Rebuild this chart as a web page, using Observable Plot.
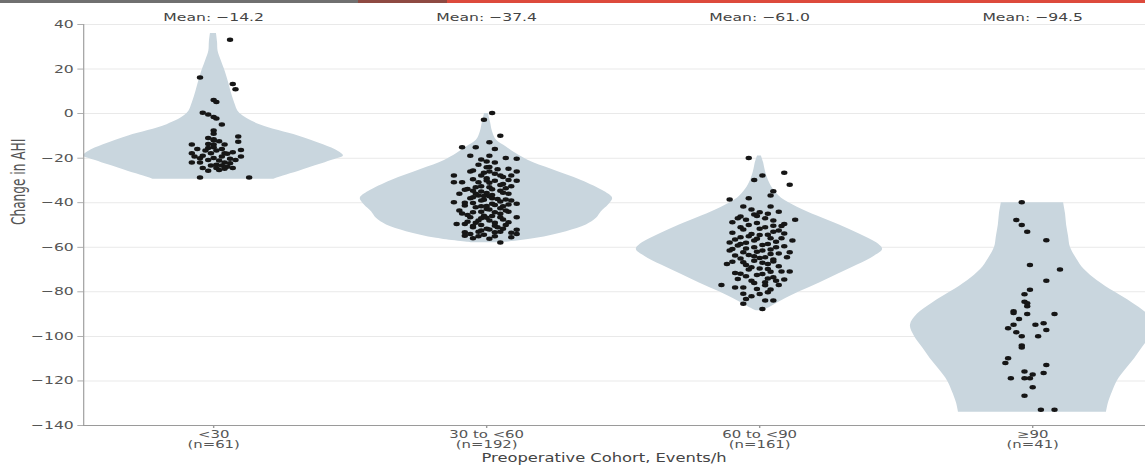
<!DOCTYPE html>
<html>
<head>
<meta charset="utf-8">
<script src="https://cdn.jsdelivr.net/npm/d3@7"></script>
<script src="https://cdn.jsdelivr.net/npm/@observablehq/plot@0.6"></script>
<style>
  html, body { margin: 0; padding: 0; background: #fff; }
  #wrap { position: relative; width: 1145px; height: 468px; overflow: hidden; }
  #topbar { position: absolute; top: 0; left: 0; width: 1145px; height: 3px;
    background: linear-gradient(to right, #707070 0 358px, #8e4a42 358px 447px, #dd4a3c 447px 1145px); }
</style>
</head>
<body>
<div id="wrap"><div id="topbar"></div></div>
<script>
// ---- data ----
const categories = ["<30", "30 to <60", "60 to <90", "≥90"];
const nLabels = ["(n=61)", "(n=192)", "(n=161)", "(n=41)"];
const means = [-14.2, -37.4, -61.0, -94.5];
const yTicks = [-140, -120, -100, -80, -60, -40, -20, 0, 20, 40];
const yTitle = "Change in AHI";
const xTitle = "Preoperative Cohort, Events/h";

// violin outlines: [value, half-width in category units]
const violin1 = [[36,0.011],[32,0.015],[28,0.017],[24,0.028],[20,0.040],[15,0.053],[10,0.064],[5,0.077],[0,0.097],[-5,0.170],[-10,0.311],[-14,0.403],[-17,0.458],[-19,0.476],[-21,0.432],[-23,0.385],[-26,0.311],[-28,0.256],[-29.5,0.220]];
const violin2 = [[0,0.007],[-4,0.015],[-8,0.022],[-12,0.037],[-15,0.073],[-18,0.110],[-21,0.154],[-25,0.238],[-30,0.348],[-35,0.432],[-38,0.462],[-41,0.447],[-44,0.421],[-47,0.403],[-50,0.366],[-53,0.293],[-56,0.183],[-58,0.055]];
const violin3 = [[-19,0.007],[-22,0.015],[-26,0.022],[-30,0.033],[-34,0.051],[-38,0.081],[-42,0.139],[-46,0.212],[-50,0.293],[-54,0.366],[-58,0.429],[-61,0.451],[-64,0.421],[-68,0.359],[-72,0.289],[-76,0.220],[-80,0.147],[-84,0.081],[-87,0.037],[-88.5,0.011]];
const violin4 = [[-40,0.114],[-45,0.121],[-50,0.125],[-55,0.132],[-60,0.139],[-65,0.161],[-70,0.190],[-75,0.238],[-80,0.300],[-85,0.366],[-90,0.421],[-95,0.447],[-100,0.432],[-105,0.403],[-110,0.374],[-115,0.341],[-120,0.311],[-125,0.293],[-130,0.278],[-134,0.271]];

// individual patients: [change in AHI, jitter in category units]
const points1 = [[33.1,0.06],[16.2,-0.05],[13.3,0.07],[10.9,0.08],[6.1,0.00],[5.2,0.01],[0.4,-0.04],[-0.4,-0.02],[-1.5,0.00],[-2.2,0.01],[-4.9,0.03],[-7.6,0.00],[-9,0.00],[-10.3,0.09],[-10.9,-0.02],[-11.5,0.00],[-12.6,0.09],[-13.9,-0.08],[-13.6,-0.02],[-13.9,0.00],[-13.9,0.04],[-15.4,-0.02],[-15.1,0.00],[-15.9,0.03],[-16.3,0.10],[-15.9,-0.06],[-16.6,-0.03],[-16.6,0.01],[-17.8,-0.08],[-17.8,-0.01],[-17.8,0.04],[-17.4,0.07],[-18.9,-0.04],[-19.3,-0.07],[-19.3,0.03],[-19.3,0.10],[-19.9,0.00],[-20.3,0.06],[-20.8,0.08],[-20.8,-0.02],[-21.9,-0.05],[-21.9,-0.08],[-21.9,0.04],[-22.3,0.06],[-22.9,0.01],[-23.3,-0.01],[-23.3,0.03],[-23.8,0.05],[-24.4,-0.04],[-24.4,0.01],[-24.8,0.04],[-25.6,-0.02],[-25.3,0.02],[-24.4,0.07],[-28.7,-0.05],[-28.7,0.13],[-12.0,0.00],[-12.4,0.02],[-20.0,-0.05],[-21.0,0.02],[-18.0,0.05]];
const points2 = [[0.3,0.02],[-2.8,-0.01],[-9.9,0.05],[-12.9,0.01],[-15.1,-0.09],[-15.1,-0.04],[-15.9,0.03],[-18.9,-0.06],[-18.9,0.01],[-19.9,0.07],[-20.3,0.11],[-20.6,-0.02],[-21.5,0.00],[-21.9,0.03],[-24.1,0.00],[-24.8,0.08],[-26,-0.06],[-26,0.01],[-26,0.11],[-27.8,-0.12],[-27.8,-0.02],[-27.8,0.05],[-27.8,0.09],[-29,0.00],[-30.8,-0.09],[-30.8,-0.03],[-30.1,0.03],[-30.1,0.11],[-31.6,0.06],[-30.8,-0.12],[-32.6,-0.02],[-33.1,0.01],[-32.6,0.09],[-33.8,-0.07],[-34.6,-0.05],[-34.6,0.05],[-35.6,0.00],[-36,-0.10],[-36,0.08],[-36.8,-0.03],[-37.1,0.01],[-38,-0.06],[-38.3,0.04],[-38.7,-0.01],[-39,0.09],[-39.8,-0.12],[-40.1,-0.05],[-40.5,0.02],[-40.5,0.11],[-41.3,-0.08],[-41.6,-0.02],[-41.6,0.06],[-42.8,0.00],[-43.5,-0.10],[-44.3,-0.05],[-44.3,0.03],[-44,0.08],[-45.8,-0.01],[-46.5,-0.06],[-46.5,0.05],[-46.5,0.11],[-48,-0.03],[-48,0.01],[-48.8,0.08],[-49.5,-0.11],[-49.5,-0.08],[-50,-0.02],[-50.3,0.03],[-51,-0.05],[-51.7,0.00],[-51.7,0.06],[-52.1,0.11],[-53,-0.03],[-53.3,0.03],[-53.3,-0.08],[-53.5,0.09],[-54.4,-0.01],[-54.8,-0.08],[-55.5,0.09],[-56.2,0.01],[-57.8,0.05],[-54,0.11],
  [-23,-0.03],[-25,0.04],[-26.5,-0.01],[-28.5,0.06],[-29.5,-0.05],[-31,0.01],[-32,0.05],[-33,-0.04],[-34,0.02],[-35,-0.02],[-35.5,0.06],[-36.5,0.02],[-37.5,-0.05],[-38,0.02],[-39,-0.02],[-39.5,0.05],[-40,-0.08],[-41,0.03],[-42,-0.04],[-42.5,0.05],[-43,0.01],[-44,-0.02],[-45,0.05],[-45.5,-0.07],[-46,0.02],[-47,-0.02],[-47.5,0.06],[-49,-0.04],[-49,0.03],[-50,0.07],[-50.5,-0.05],[-52,0.01],[-52.5,-0.02],[-53,0.05],[-55,-0.03],[-55,0.03],[-56,-0.05],[-24,0.01],[-27,0.03],[-30,0.00],[-33.5,0.07],[-37,-0.01],[-41.5,0.00],[-43.5,0.07],[-46.8,0.00],[-51,0.04],[-54,-0.06],[-36,-0.04],[-38.5,0.07],[-44.8,-0.09],[-48.5,-0.07],[-40.8,0.08],[-34.2,-0.08],[-29.8,0.08],[-25.5,-0.05]];
const points3 = [[-19.9,-0.04],[-27.8,0.01],[-26.6,0.09],[-29.8,-0.02],[-31.9,0.11],[-34.9,0.05],[-36.8,0.04],[-38.6,-0.11],[-38,-0.04],[-41.7,-0.06],[-41.7,0.04],[-44,0.07],[-44.3,0.00],[-45.3,-0.02],[-46.2,-0.07],[-47.6,0.13],[-47.6,-0.05],[-47,0.02],[-48.8,-0.10],[-49.1,-0.01],[-50.3,0.05],[-49.5,0.09],[-51,-0.07],[-51.7,0.00],[-52.5,0.07],[-53.5,-0.10],[-54,-0.03],[-54.4,0.03],[-55.5,-0.07],[-56.2,-0.01],[-55.9,0.08],[-57,0.12],[-57.8,-0.11],[-58,-0.05],[-58.5,0.03],[-59.2,-0.08],[-60,-0.02],[-60,0.06],[-61.5,-0.11],[-61.5,0.01],[-62.2,-0.06],[-62.2,0.11],[-63,0.04],[-63.7,-0.09],[-64,-0.02],[-64.5,0.10],[-67.5,-0.12],[-66.7,-0.06],[-67,0.01],[-66.4,0.05],[-69,-0.03],[-69.7,0.03],[-70.9,0.08],[-70.9,0.11],[-71.9,-0.07],[-72.4,-0.01],[-73.5,0.05],[-74.2,-0.08],[-75,-0.03],[-75.7,0.02],[-76.9,-0.14],[-76.9,0.07],[-78,-0.06],[-78.7,-0.01],[-80.2,0.03],[-80.9,-0.06],[-83.2,-0.05],[-83.9,0.02],[-83.9,0.05],[-87.7,0.01],[-85.4,-0.06],
  [-43,-0.03],[-45,0.03],[-46,-0.01],[-48,0.05],[-50,-0.04],[-51,0.02],[-52,-0.06],[-53,0.05],[-54.5,0.00],[-55,-0.04],[-56,0.04],[-57,-0.02],[-57.5,0.06],[-58.5,-0.07],[-59,0.01],[-60.5,-0.05],[-61,0.04],[-62,-0.01],[-62.8,0.07],[-63.5,-0.04],[-64.5,0.02],[-65,-0.07],[-65.5,0.05],[-66,-0.02],[-67.5,0.03],[-68,-0.05],[-68.5,0.07],[-69.5,0.00],[-70,-0.04],[-71,0.04],[-72,0.01],[-73,-0.05],[-74,0.03],[-75,0.06],[-76,-0.02],[-77,0.02],[-78,-0.09],[-79,0.04],[-81,0.00],[-82,-0.03],[-50.5,0.08],[-56.5,-0.09],[-59.5,0.09],[-66.5,-0.10],[-71.5,-0.09],[-74.5,0.09],[-47,-0.08],[-53.8,0.09],[-60.8,-0.10],[-64.8,0.00]];
const points4 = [[-39.8,-0.04],[-47.7,-0.06],[-50,-0.04],[-53,-0.02],[-56.8,0.05],[-67.9,-0.01],[-70,0.10],[-75,0.05],[-79.1,-0.01],[-81.1,-0.03],[-84.4,-0.03],[-85.1,-0.02],[-88.7,-0.07],[-89.5,-0.07],[-89.9,-0.02],[-89.9,0.08],[-92.2,-0.05],[-94.8,-0.07],[-96.3,-0.09],[-94.8,0.01],[-94.1,0.04],[-97.1,0.05],[-98.1,-0.06],[-99.9,-0.04],[-99.9,0.02],[-104.1,-0.04],[-105,-0.04],[-109.8,-0.09],[-111.9,-0.10],[-112.8,0.05],[-115.8,-0.03],[-116.4,0.04],[-117.1,0.00],[-118.8,-0.08],[-118.8,-0.03],[-118.8,-0.01],[-122.8,0.00],[-126.6,-0.03],[-132.9,0.03],[-132.9,0.08],[-86.5,-0.02]];

// ---- build tables ----
const violins = [violin1, violin2, violin3, violin4];
const pointSets = [points1, points2, points3, points4];
const violinRows = violins.flatMap((v, c) => v.map(([value, w]) => ({c, value, w})));
const pointRows = pointSets.flatMap((p, c) => p.map(([value, j]) => ({c, value, j})));

const stretch = 1145 / 806;          // reference is horizontally stretched
const W = 806, H = 468;
const xDomain = [-0.476, 3.414];
const fmt = d => d < 0 ? "\u2212" + Math.abs(d) : String(d);
const fmt1 = d => (d < 0 ? "\u2212" : "") + Math.abs(d).toFixed(1);

const chart = Plot.plot({
  width: W, height: H,
  marginLeft: 83 / stretch, marginRight: 0, marginTop: 24, marginBottom: 43,
  style: {fontFamily: "'DejaVu Sans', Verdana, sans-serif", fontSize: "11px", color: "#555", background: "transparent"},
  x: {domain: xDomain},
  y: {domain: [-140, 40]},
  marks: [
    Plot.gridY(yTicks, {stroke: "#e9e9e9", strokeOpacity: 1}),
    Plot.areaX(violinRows, {y: "value", x1: d => d.c - d.w, x2: d => d.c + d.w, z: "c", fill: "#c9d6de", curve: "catmull-rom"}),
    Plot.dot(pointRows, {x: d => d.c + d.j, y: "value", r: 2.25, fill: "#161616", stroke: "none"}),
    Plot.ruleY([-140], {stroke: "#9a9a9a"}),
    Plot.ruleX([xDomain[0]], {stroke: "#9a9a9a", strokeWidth: 0.8}),
    Plot.axisY({ticks: yTicks, tickFormat: fmt, tickSize: 4, tickPadding: 3, stroke: "#9a9a9a", strokeWidth: 0.8, fill: "#555", label: null}),
    Plot.axisX({ticks: [0, 1, 2, 3], tickFormat: i => categories[i] + "\n" + nLabels[i], tickSize: 3, tickPadding: 2, fontSize: 10.5, stroke: "#9a9a9a", fill: "#555", label: null}),
    Plot.text(means, {x: (d, i) => i, frameAnchor: "top", dy: -11, text: d => "Mean: " + fmt1(d), fill: "#444", fontSize: 11}),
    Plot.text([xTitle], {x: 1.43, frameAnchor: "bottom", dy: 36, fill: "#444", fontSize: 11.5}),
    Plot.text([yTitle], {frameAnchor: "left", dx: -(83 - 18) / stretch, rotate: -90, fill: "#555", fontSize: 13.5,
      fontFamily: "'Liberation Sans Narrow', 'DejaVu Sans Condensed', sans-serif"})
  ]
});

chart.setAttribute("width", 1145);
chart.setAttribute("height", H);
chart.setAttribute("preserveAspectRatio", "none");
chart.style.width = "1145px";
chart.style.height = H + "px";
chart.style.maxWidth = "none";
chart.style.display = "block";
document.getElementById("wrap").prepend(chart);
</script>
</body>
</html>
